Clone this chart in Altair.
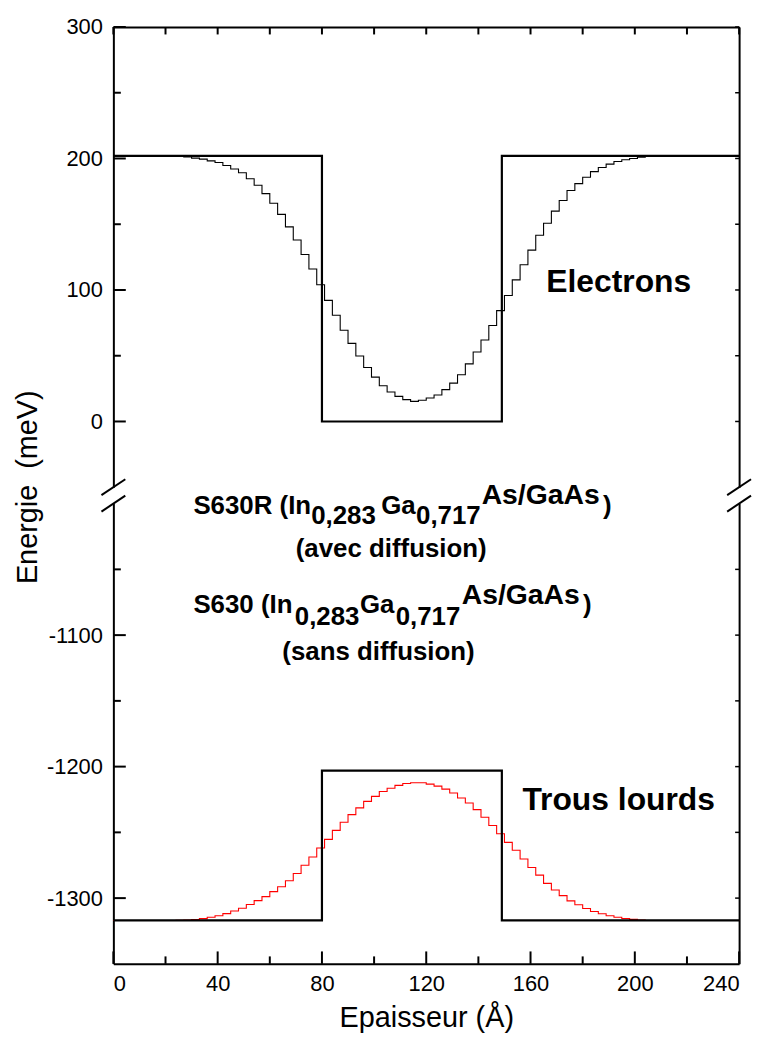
import altair as alt
import pandas as pd

# ---------------- data ----------------
x_major = [0, 40, 80, 120, 160, 200, 240]
x_minor = [20, 60, 100, 140, 180, 220]
y_top_major = [0, 100, 200, 300]
y_top_minor = [50, 150, 250]
y_bot_major = [-1300, -1200, -1100]
y_bot_minor = [-1250, -1150, -1050]

# abrupt (sans diffusion) square wells
well_x = [0, 80, 149, 240]
well_electrons = [202, 0, 202, 202]
well_holes = [-1317, -1203, -1317, -1317]

# diffused (avec diffusion) staircase profiles
diff_x = [0, 24, 27, 30, 33, 36, 39, 42, 45, 48, 51, 54, 57, 60, 63, 66, 69, 72,
          75, 78, 81, 84, 87, 90, 93, 96, 99, 102, 105, 108, 111, 114, 117, 120,
          123, 126, 129, 132, 135, 138, 141, 144, 147, 150, 153, 156, 159, 162,
          165, 168, 171, 174, 177, 180, 183, 186, 189, 192, 195, 198, 201, 204, 240]
diff_electrons = [202, 201.6, 201.2, 200.3, 199.5, 198.2, 196.9, 194.7, 192.0, 189.2,
                  184.6, 179.6, 173.3, 166.0, 157.5, 148.0, 138.0, 127.0, 116.0, 104.0,
                  92.1, 80.8, 69.4, 59.4, 49.8, 41.0, 33.7, 27.2, 22.4, 19.1, 16.6,
                  15.3, 16.1, 17.9, 20.1, 24.2, 29.2, 35.5, 43.8, 52.8, 62.0, 73.0,
                  84.3, 95.8, 107.7, 119.2, 130.3, 141.6, 150.7, 160.0, 168.0, 175.6,
                  180.9, 185.7, 190.0, 193.2, 195.7, 197.7, 199.0, 200.0, 201.0, 201.6, 202]
diff_holes = [-1317, -1316.9, -1316.7, -1316.3, -1315.6, -1314.6, -1313.4, -1311.8,
              -1309.8, -1307.7, -1304.9, -1301.9, -1298.9, -1295.1, -1291.3, -1286.8,
              -1281.3, -1275.0, -1268.7, -1261.9, -1255.3, -1248.5, -1242.3, -1236.5,
              -1231.4, -1226.4, -1222.6, -1218.9, -1216.4, -1214.3, -1212.8, -1212.3,
              -1212.3, -1213.3, -1214.8, -1217.1, -1220.1, -1223.9, -1227.7, -1232.7,
              -1238.5, -1244.8, -1251.1, -1257.6, -1263.6, -1270.2, -1276.7, -1282.5,
              -1288.8, -1293.8, -1298.1, -1302.1, -1305.1, -1307.9, -1310.2, -1311.9,
              -1313.4, -1314.6, -1315.5, -1316.2, -1316.7, -1317.0, -1317]

# ---------------- layout constants ----------------
FONT = "Liberation Sans"
W = 629.5
H = 463
MAJ = 12.5
MIN = 7.5
RT = 4
LABEL_EXPR = "datum.value < 0 ? '-' + abs(datum.value) : '' + datum.value"

xscale = alt.Scale(domain=[0, 240], nice=False, zero=False)


def x_axis(bottom):
    if bottom:
        return alt.Axis(orient="bottom", values=x_major, labelExpr=LABEL_EXPR,
                        ticks=False, tickSize=0, grid=False, domain=True,
                        domainColor="black", domainWidth=2, labelPadding=10,
                        title="Epaisseur (Å)", titleY=63,
                        titleBaseline="alphabetic")
    return alt.Axis(orient="top", labels=False, ticks=False, tickSize=0, grid=False,
                    domain=True, domainColor="black", domainWidth=2, title=None)


def text_layer(s, x, y, size=26, weight="bold"):
    return alt.Chart(pd.DataFrame({"label": [s]})).mark_text(
        font=FONT, fontSize=size, fontWeight=weight, align="left",
        baseline="alphabetic", color="black"
    ).encode(x=alt.value(x), y=alt.value(y), text=alt.Text("label:N"))


def panel(domain, major, minor, well_y, diff_y, diff_color, top, texts):
    yscale = alt.Scale(domain=domain, nice=False, zero=False)
    xa = x_axis(not top)
    df_well = pd.DataFrame({"x": well_x, "y": well_y})
    df_diff = pd.DataFrame({"x": diff_x, "y": diff_y})

    if top:
        left_axis = alt.Axis(orient="left", values=major, labelExpr=LABEL_EXPR,
                             ticks=False, tickSize=0, grid=False, domain=True,
                             domainColor="black", domainWidth=2, labelPadding=11,
                             title="Energie\u00a0 (meV)", titleX=-86.5, titleY=462.5,
                             titleBaseline="middle", titleAngle=270)
    else:
        left_axis = alt.Axis(orient="left", values=major, labelExpr=LABEL_EXPR,
                             ticks=False, tickSize=0, grid=False, domain=True,
                             domainColor="black", domainWidth=2, labelPadding=11,
                             title=None)
    right_axis = alt.Axis(orient="right", labels=False, ticks=False, tickSize=0,
                          grid=False, domain=True, domainColor="black",
                          domainWidth=2, title=None)

    well = alt.Chart(df_well).mark_line(
        interpolate="step-after", color="black", strokeWidth=2.2
    ).encode(x=alt.X("x:Q", scale=xscale, axis=xa),
             y=alt.Y("y:Q", scale=yscale, axis=left_axis))
    diff = alt.Chart(df_diff).mark_line(
        interpolate="step-after", color=diff_color, strokeWidth=1.1
    ).encode(x=alt.X("x:Q", scale=xscale, axis=xa),
             y=alt.Y("y:Q", scale=yscale, axis=right_axis))

    layers = [diff, well]

    ymaj = pd.DataFrame({"v": major})
    ymin = pd.DataFrame({"v": minor})
    yall = pd.DataFrame({"v": sorted(major + minor)})
    layers.append(alt.Chart(ymaj).mark_rule(color="black", strokeWidth=2).encode(
        y=alt.Y("v:Q", scale=yscale, axis=None), x=alt.value(0), x2=alt.value(MAJ)))
    layers.append(alt.Chart(ymin).mark_rule(color="black", strokeWidth=2).encode(
        y=alt.Y("v:Q", scale=yscale, axis=None), x=alt.value(0), x2=alt.value(MIN)))
    layers.append(alt.Chart(yall).mark_rule(color="black", strokeWidth=1.5).encode(
        y=alt.Y("v:Q", scale=yscale, axis=None), x=alt.value(W - RT), x2=alt.value(W)))

    xmaj = pd.DataFrame({"v": x_major})
    xmin = pd.DataFrame({"v": x_minor})
    if top:
        layers.append(alt.Chart(xmin).mark_rule(color="black", strokeWidth=2).encode(
            x=alt.X("v:Q", scale=xscale, axis=xa), y=alt.value(0), y2=alt.value(MIN)))
        layers.append(alt.Chart(xmaj).mark_rule(color="black", strokeWidth=2).encode(
            x=alt.X("v:Q", scale=xscale, axis=xa), y=alt.value(0), y2=alt.value(MIN)))
        for bx in (0, W):
            layers.append(alt.Chart(pd.DataFrame({"b": [0]})).mark_rule(
                color="black", strokeWidth=2).encode(
                x=alt.value(bx - 12), x2=alt.value(bx + 12),
                y=alt.value(H + 8), y2=alt.value(H - 8)))
    else:
        layers.append(alt.Chart(xmaj).mark_rule(color="black", strokeWidth=2).encode(
            x=alt.X("v:Q", scale=xscale, axis=xa), y=alt.value(H), y2=alt.value(H - MAJ)))
        layers.append(alt.Chart(xmin).mark_rule(color="black", strokeWidth=2).encode(
            x=alt.X("v:Q", scale=xscale, axis=xa), y=alt.value(H), y2=alt.value(H - MIN)))
        for bx in (0, W):
            layers.append(alt.Chart(pd.DataFrame({"b": [0]})).mark_rule(
                color="black", strokeWidth=2).encode(
                x=alt.value(bx - 12), x2=alt.value(bx + 12),
                y=alt.value(8), y2=alt.value(-8)))

    layers.extend(texts)
    return alt.layer(*layers).resolve_axis(y="independent").properties(
        width=W, height=H)


SUP = 28.5
top_texts = [text_layer("Electrons", 435.5, 266.7, size=32)]
bot_texts = [
    text_layer("Trous lourds", 411.5, 308.2, size=32),
    # line 1
    text_layer("S630R (In", 80.5, 10.5),
    text_layer("0,283", 199.0, 20.5),
    text_layer("Ga", 269.5, 10.5),
    text_layer("0,717", 304.5, 20.5),
    text_layer("As/GaAs", 370.5, 0.5, size=SUP),
    text_layer(")", 492.5, 10.5),
    text_layer("(avec diffusion)", 183.5, 53.8),
    # line 3
    text_layer("S630 (In", 80.5, 110.5),
    text_layer("0,283", 182.5, 122.2),
    text_layer("Ga", 248.0, 110.5),
    text_layer("0,717", 284.0, 122.2),
    text_layer("As/GaAs", 350.5, 100.5, size=SUP),
    text_layer(")", 472.5, 110.5),
    text_layer("(sans diffusion)", 170.0, 157.2),
]

top = panel([-50, 300], y_top_major, y_top_minor, well_electrons, diff_electrons,
            "black", True, top_texts)
bottom = panel([-1350, -1000], y_bot_major, y_bot_minor, well_holes, diff_holes,
               "#ff0000", False, bot_texts)

chart = alt.vconcat(top, bottom, spacing=16.5, bounds="flush").configure(
    font=FONT, background="white"
).configure_view(
    stroke=None
).configure_axis(
    labelFont=FONT, labelFontSize=22, labelColor="black",
    titleFont=FONT, titleFontSize=29, titleFontWeight="normal", titleColor="black"
)

chart.save("out.html", embed_options={"renderer": "svg", "actions": False})
